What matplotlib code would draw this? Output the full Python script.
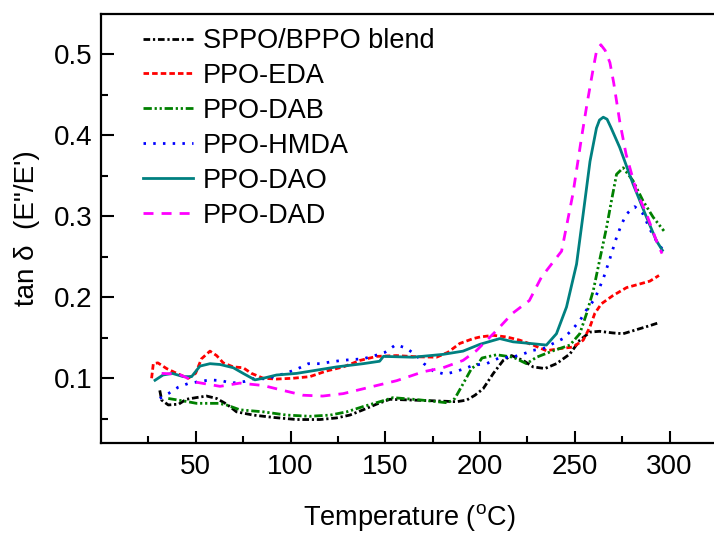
import matplotlib
matplotlib.use("Agg")
import matplotlib.pyplot as plt

plt.rcParams["font.family"] = ["Liberation Sans", "DejaVu Sans"]
plt.rcParams["mathtext.fontset"] = "custom"
plt.rcParams["mathtext.rm"] = "Liberation Sans"

# tan delta vs temperature for each membrane
t_blend = [31, 32, 35.5, 41, 45, 50, 55.7, 61, 66.3, 71.5, 80.3, 90.9, 103.2, 115.5,
           124.3, 131.3, 138.3, 145.4, 152.4, 164.7, 177, 187.6, 192.9, 197.3, 201.6,
           207, 212.2, 216.6, 222.7, 228, 234.2, 240.3, 247.4, 252.6, 258, 263, 270,
           275.5, 282.5, 289.6, 294.8]
v_blend = [0.085, 0.073, 0.067, 0.068, 0.074, 0.076, 0.078, 0.075, 0.068, 0.0585,
           0.0545, 0.0516, 0.049, 0.049, 0.051, 0.0545, 0.061, 0.068, 0.074, 0.073,
           0.072, 0.071, 0.073, 0.079, 0.087, 0.106, 0.122, 0.128, 0.122, 0.114, 0.112,
           0.118, 0.130, 0.147, 0.157, 0.158, 0.156, 0.155, 0.160, 0.165, 0.169]

t_eda = [26.7, 27.6, 30, 34.6, 40, 46, 49.9, 53, 57.5, 61, 64.5, 69.8, 75, 79.4, 85.6,
         92.6, 101.4, 110.2, 119, 127.8, 136.6, 145.4, 155.9, 166.5, 177, 183, 189.3,
         196.4, 200, 207, 214, 221, 228, 235, 242, 249, 254.4, 257.9, 260.5, 264, 270,
         277.3, 284.3, 289.6, 294.4]
v_eda = [0.100, 0.118, 0.119, 0.112, 0.106, 0.100, 0.106, 0.124, 0.1335, 0.128, 0.119,
         0.114, 0.113, 0.106, 0.100, 0.099, 0.100, 0.102, 0.109, 0.114, 0.122, 0.127,
         0.128, 0.1265, 0.126, 0.132, 0.143, 0.149, 0.151, 0.153, 0.151, 0.147, 0.141,
         0.134, 0.1366, 0.1385, 0.147, 0.163, 0.180, 0.192, 0.202, 0.212, 0.2165,
         0.220, 0.227]

t_dab = [35.5, 43.4, 50.4, 62, 66.2, 73.3, 85.6, 97.9, 110.2, 121, 129.6, 138.3, 147.1,
         154, 164.7, 173.5, 183, 186.7, 191, 195.5, 199, 201, 208.7, 217.5, 224.5,
         229.8, 238.6, 247.4, 252.6, 256.2, 259.7, 263, 266.7, 269.3, 272, 275.5,
         280.7, 286, 291.3, 297]
v_dab = [0.075, 0.072, 0.069, 0.069, 0.067, 0.061, 0.0585, 0.0545, 0.053, 0.0545,
         0.0585, 0.065, 0.071, 0.076, 0.074, 0.072, 0.0696, 0.075, 0.093, 0.112, 0.118,
         0.125, 0.129, 0.126, 0.118, 0.126, 0.134, 0.141, 0.155, 0.180, 0.208, 0.245,
         0.286, 0.319, 0.352, 0.360, 0.344, 0.319, 0.299, 0.282]

t_hmda = [31, 35.5, 40.8, 46, 52.2, 57.5, 63.5, 68.8, 75.8, 81.2, 87.4, 92.6, 97.9, 104,
          109.4, 115.5, 120.8, 126.9, 132, 138.3, 144.5, 149.8, 155.6, 161.2, 166.5,
          170.4, 175.3, 181.4, 186.7, 192, 196.4, 203.4, 210.4, 217, 222.7, 228, 233.3,
          238.6, 243.8, 248.2, 252.6, 256, 260.5, 265, 268.4, 272, 274.6, 277.3, 281.6,
          286, 289.6, 293, 296]
v_hmda = [0.075, 0.081, 0.089, 0.0935, 0.096, 0.098, 0.097, 0.094, 0.096, 0.100, 0.099,
          0.103, 0.1065, 0.112, 0.118, 0.118, 0.120, 0.122, 0.123, 0.124, 0.128, 0.132,
          0.1415, 0.137, 0.128, 0.118, 0.109, 0.105, 0.108, 0.112, 0.116, 0.118, 0.1255,
          0.126, 0.130, 0.1345, 0.1366, 0.143, 0.149, 0.159, 0.171, 0.184, 0.198, 0.223,
          0.247, 0.274, 0.290, 0.303, 0.312, 0.303, 0.284, 0.270, 0.260]

t_dao = [28.5, 32.7, 37.6, 43.4, 47.8, 52.2, 57.5, 62.8, 69.8, 75, 81.2, 85.6, 92.6,
         103.2, 113.8, 124.3, 138.3, 147, 149, 164.7, 180.5, 191, 200, 210.4, 217.4,
         226.3, 235, 240.3, 245.6, 250.9, 254.4, 258, 261.4, 263, 265, 267, 269, 273.7,
         280.7, 287.8, 293, 296.2]
v_dao = [0.0975, 0.104, 0.106, 0.102, 0.102, 0.115, 0.118, 0.117, 0.113, 0.106, 0.098,
         0.100, 0.104, 0.106, 0.110, 0.114, 0.118, 0.121, 0.127, 0.126, 0.1295, 0.1335,
         0.142, 0.149, 0.145, 0.143, 0.141, 0.155, 0.188, 0.241, 0.303, 0.368, 0.409,
         0.419, 0.4225, 0.420, 0.410, 0.385, 0.340, 0.299, 0.270, 0.258]

t_dad = [32, 41, 50.5, 62.8, 73.3, 85.6, 96, 106.7, 117, 127.8, 141.9, 156, 170, 180.5,
         191, 198, 208.7, 217, 226, 232.4, 243, 249, 253.5, 256.5, 259.5, 261.5, 263.7,
         266, 268.5, 270.5, 273.7, 277, 282.5, 287.8, 293, 296]
v_dad = [0.106, 0.105, 0.095, 0.090, 0.094, 0.091, 0.085, 0.079, 0.078, 0.081, 0.089,
         0.097, 0.108, 0.113, 0.122, 0.134, 0.159, 0.180, 0.196, 0.225, 0.257, 0.328,
         0.397, 0.440, 0.480, 0.505, 0.512, 0.505, 0.490, 0.465, 0.417, 0.377, 0.331,
         0.303, 0.270, 0.254]

labels = ["SPPO/BPPO blend", "PPO-EDA", "PPO-DAB", "PPO-HMDA", "PPO-DAO", "PPO-DAD"]
series = [(t_blend, v_blend), (t_eda, v_eda), (t_dab, v_dab),
          (t_hmda, v_hmda), (t_dao, v_dao), (t_dad, v_dad)]
colors = ["#000000", "#ff0000", "#008000", "#0000ff", "#008080", "#ff00ff"]
styles = [(0, (2.4, 1.0, 0.8, 1.0)),
          (0, (2.0, 1.1)),
          (0, (3.0, 1.0, 0.8, 1.0, 0.8, 1.0)),
          (0, (0.9, 2.6)),
          "-",
          (0, (3.6, 2.9))]

fig = plt.figure(figsize=(7.14, 5.34), dpi=100)
W, H = 714, 534
ax = fig.add_axes([101 / W, (H - 443) / H, 616 / W, 429 / H])

for (t, v), lab, c, ls in zip(series, labels, colors, styles):
    ax.plot(t, v, color=c, linestyle=ls, lw=2.0, label=lab)

ax.set_xlim(0, 325)
ax.set_ylim(0.02, 0.55)
ax.set_xticks([50, 100, 150, 200, 250, 300])
ax.set_xticks([25, 75, 125, 175, 225, 275], minor=True)
ax.set_yticks([0.1, 0.2, 0.3, 0.4, 0.5])
ax.set_yticks([0.05, 0.15, 0.25, 0.35, 0.45], minor=True)
ax.tick_params(which="both", direction="in", top=False, right=False,
               width=1.5, labelsize=20)
ax.tick_params(axis="x", which="both", pad=8)
ax.tick_params(axis="y", which="both", pad=6)
ax.tick_params(which="major", length=9)
ax.tick_params(which="minor", length=5)
for s in ax.spines.values():
    s.set_linewidth(1.6)

ax.set_xlabel("Temperature ($^{\\mathregular{o}}$C)", fontsize=19.5, labelpad=16)
ax.set_ylabel("tan \u03b4  (E\"/E')", fontsize=20, labelpad=10)

ax.legend(loc="upper left", bbox_to_anchor=(143 / W, (H - 28) / H),
          bbox_transform=fig.transFigure, frameon=False, fontsize=19.5,
          borderpad=0, borderaxespad=0, handlelength=1.85, handletextpad=0.35,
          labelspacing=0.33)

fig.savefig("out.png", dpi=100)
